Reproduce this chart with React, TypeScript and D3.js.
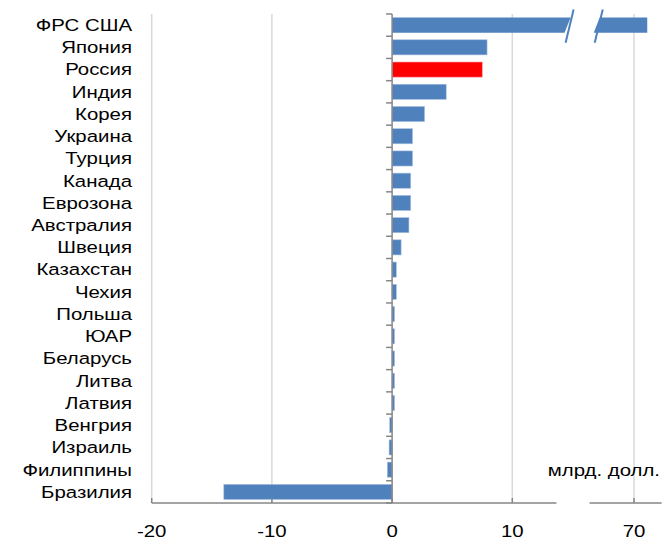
import React from "react";
import * as d3 from "d3";

const countries = [
  "ФРС США", "Япония", "Россия", "Индия", "Корея", "Украина", "Турция", "Канада",
  "Еврозона", "Австралия", "Швеция", "Казахстан", "Чехия", "Польша", "ЮАР",
  "Беларусь", "Литва", "Латвия", "Венгрия", "Израиль", "Филиппины", "Бразилия",
];
const values = [
  71.1, 7.9, 7.5, 4.5, 2.7, 1.7, 1.7, 1.55, 1.55, 1.4, 0.75, 0.35, 0.35, 0.2, 0.2,
  0.2, 0.2, 0.2, -0.2, -0.25, -0.4, -14.0,
];
const highlight = "Россия";
const ticksLeft = [-20, -10, 0, 10];
const ticksRight = [70];
const unitLabel = "млрд. долл.";
// broken-axis limits
const leftMax = 13.67;
const rightMin = 66.3;
const rightMax = 72.3;
const breakLeftEnd = 14.6;
const breakRightStart = 66.9;

const W = 662, H = 545;
const top = 14, bottom = 503;
const font = "'Liberation Sans', Arial, sans-serif";
const blue = "#4f81bd";
const sx = 1.2;

export default function App() {
  const x1 = d3.scaleLinear().domain([-20, 10]).range([151.7, 512.3]);
  const unit = x1(1) - x1(0);
  const x2 = d3.scaleLinear().domain([70, 71]).range([634, 634 + unit]);
  const y = d3.scaleBand<string>().domain(countries).range([top, bottom])
    .paddingInner(0.32).paddingOuter(0.16);
  const bw = y.bandwidth();
  const step = y.step();
  const x0 = x1(0);

  const bars = countries.map((c, i) => {
    const v = values[i];
    const yy = y(c)!;
    const color = c === highlight ? "#ff0000" : blue;
    if (v > leftMax) {
      const a = x1(breakLeftEnd);
      const b = x2(breakRightStart);
      const e = x2(v);
      const yb = yy + bw;
      return (
        <g key={c}>
          <polygon points={`${x0},${yy} ${a + 3},${yy} ${a - 3},${yb} ${x0},${yb}`} fill={color} />
          <polygon points={`${b + 3},${yy} ${e},${yy} ${e},${yb} ${b - 3},${yb}`} fill={color} />
          <line x1={a + 6} y1={yy - 8} x2={a - 2} y2={yb + 10} stroke={color} strokeWidth={2} />
          <line x1={b + 6} y1={yy - 8} x2={b - 2} y2={yb + 10} stroke={color} strokeWidth={2} />
        </g>
      );
    }
    const xa = Math.min(x1(0), x1(v));
    const xb = Math.max(x1(0), x1(v));
    return <rect key={c} x={xa} y={yy} width={xb - xa} height={bw} fill={color}
      stroke={c === highlight ? "#ff9a9a" : "#a8c0e0"} strokeWidth={0.6} />;
  });

  return (
    <svg width={W} height={H} style={{ position: "absolute", left: 0, top: 0 }}>
      <rect width={W} height={H} fill="#fff" />
      {ticksLeft.filter((t) => t !== 0).map((t) => (
        <line key={t} x1={x1(t)} x2={x1(t)} y1={top} y2={bottom} stroke="#d9d9d9" strokeWidth={1.5} />
      ))}
      {ticksRight.map((t) => (
        <line key={t} x1={x2(t)} x2={x2(t)} y1={top} y2={bottom} stroke="#d9d9d9" strokeWidth={1.5} />
      ))}
      {bars}
      {/* y axis */}
      <line x1={x0} x2={x0} y1={top} y2={bottom} stroke="#868686" strokeWidth={1.5} />
      {d3.range(countries.length + 1).map((i) => (
        <line key={i} x1={x0 - 6} x2={x0} y1={top + i * step} y2={top + i * step} stroke="#868686" strokeWidth={1.5} />
      ))}
      {/* x axis */}
      <line x1={x1(-20)} x2={x1(leftMax)} y1={bottom} y2={bottom} stroke="#868686" strokeWidth={1.5} />
      <line x1={x2(rightMin)} x2={x2(rightMax)} y1={bottom} y2={bottom} stroke="#868686" strokeWidth={1.5} />
      {ticksLeft.map((t) => (
        <line key={t} x1={x1(t)} x2={x1(t)} y1={bottom - 5} y2={bottom} stroke="#868686" strokeWidth={1.5} />
      ))}
      {ticksRight.map((t) => (
        <line key={t} x1={x2(t)} x2={x2(t)} y1={bottom - 5} y2={bottom} stroke="#868686" strokeWidth={1.5} />
      ))}
      {/* labels */}
      {countries.map((c) => (
        <text key={c} transform={`translate(132,${y(c)! + bw / 2}) scale(${sx},1)`}
          textAnchor="end" dominantBaseline="central" fontFamily={font} fontSize={17} fill="#000">
          {c}
        </text>
      ))}
      {ticksLeft.map((t) => (
        <text key={t} transform={`translate(${x1(t)},531) scale(${sx},1)`} textAnchor="middle"
          dominantBaseline="central" fontFamily={font} fontSize={17} fill="#000">{t}</text>
      ))}
      {ticksRight.map((t) => (
        <text key={t} transform={`translate(${x2(t)},531) scale(${sx},1)`} textAnchor="middle"
          dominantBaseline="central" fontFamily={font} fontSize={17} fill="#000">{t}</text>
      ))}
      <text transform={`translate(660,476) scale(${sx},1)`} textAnchor="end" fontFamily={font} fontSize={17} fill="#000">
        {unitLabel}
      </text>
    </svg>
  );
}
